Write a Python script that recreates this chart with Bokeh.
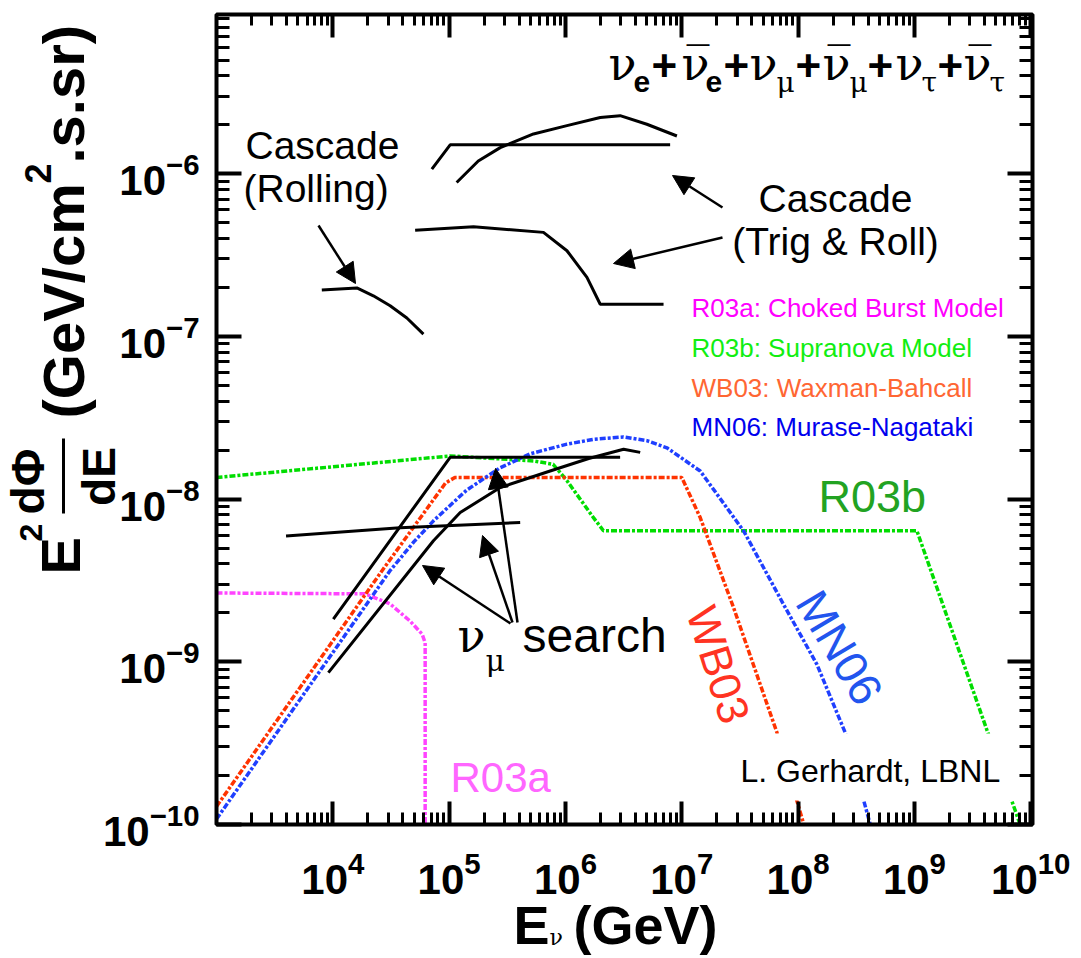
import math
from bokeh.plotting import figure
from bokeh.models import (LogAxis, FixedTicker, Label, Arrow, NormalHead,
                          BoxAnnotation, Range1d)
from bokeh.embed import file_html
from bokeh.resources import INLINE

# ---------------- data: E (GeV) and E^2 dPhi/dE (GeV cm^-2 s^-1 sr^-1) -------------
r03a_E = [1.0e3, 1.9e4, 3.11e4, 4.62e4, 5.86e4, 6.22e4, 6.22e4]
r03a_F = [2.65e-9, 2.62e-9, 2.27e-9, 1.78e-9, 1.48e-9, 1.31e-9, 1.0e-10]

r03b_E = [1.0e3, 1.02e5, 5.31e5, 7.83e5, 1.03e6, 1.74e6, 2.12e6, 1.05e9, 8.1e9]
r03b_F = [1.36e-8, 1.845e-8, 1.72e-8, 1.64e-8, 1.30e-8, 7.7e-9, 6.4e-9, 6.4e-9, 1.0e-10]

wb03_E = [1.0e3, 2.64e4, 9.33e4, 1.12e5, 1.0e7, 1.44e7, 2.79e7, 6.58e7, 1.12e8]
wb03_F = [1.29e-10, 3.62e-9, 1.26e-8, 1.36e-8, 1.36e-8, 7.71e-9, 2.15e-9, 3.67e-10, 1.0e-10]

mn06_E = [1.0e3, 3.09e4, 5.01e4, 7.33e4, 1.41e5, 2.74e5, 5.01e5, 1.03e6, 1.78e6,
          3.15e6, 5.01e6, 7.45e6, 1.44e7, 3.40e7, 7.48e7, 1.45e8, 2.54e8, 4.17e8]
mn06_F = [1.08e-10, 3.62e-9, 5.50e-9, 7.36e-9, 1.135e-8, 1.56e-8, 1.905e-8, 2.18e-8, 2.34e-8,
          2.415e-8, 2.29e-8, 2.07e-8, 1.49e-8, 6.38e-9, 2.26e-9, 9.66e-10, 3.67e-10, 1.0e-10]

casc_roll_E = [8.04e3, 1.61e4, 2.23e4, 3.11e4, 4.33e4, 6.01e4]
casc_roll_F = [1.93e-7, 1.99e-7, 1.78e-7, 1.545e-7, 1.30e-7, 1.035e-7]

casc_trlow_E = [5.1e4, 1.62e5, 6.47e5, 1.03e6, 1.53e6, 1.99e6, 6.97e6]
casc_trlow_F = [4.51e-7, 4.73e-7, 4.37e-7, 3.37e-7, 2.31e-7, 1.58e-7, 1.58e-7]

casc_flat_E = [7.1e4, 1.02e5, 7.94e6]
casc_flat_F = [1.07e-6, 1.51e-6, 1.51e-6]

casc_curve_E = [1.16e5, 1.78e5, 2.75e5, 5.31e5, 1.03e6, 1.99e6, 2.95e6, 5.01e6, 9.08e6]
casc_curve_F = [8.85e-7, 1.20e-6, 1.45e-6, 1.76e-6, 1.98e-6, 2.22e-6, 2.28e-6, 2.02e-6, 1.71e-6]

numu_flat_E = [3.96e3, 3.78e4, 4.08e5]
numu_flat_F = [5.94e-9, 6.68e-9, 7.18e-9]

numu_steep_E = [1.01e4, 1.02e5, 2.95e6]
numu_steep_F = [1.83e-9, 1.81e-8, 1.81e-8]

numu_curve_E = [9.16e3, 7.33e4, 1.245e5, 2.75e5, 7.38e5, 1.585e6, 3.16e6, 4.39e6]
numu_curve_F = [8.59e-10, 5.55e-9, 8.28e-9, 1.18e-8, 1.49e-8, 1.78e-8, 2.03e-8, 1.94e-8]

x_major = [1e4, 1e5, 1e6, 1e7, 1e8, 1e9, 1e10]
y_major = [1e-10, 1e-9, 1e-8, 1e-7, 1e-6]
x_minor = [m * 10.0 ** d for d in range(3, 10) for m in range(2, 10)]
y_minor = [m * 10.0 ** d for d in range(-10, -5) for m in range(2, 10)]

# ---------------- layout: the frame fills the canvas, the plot box sits inside ----------
W, H = 1078, 956
BOX_L, BOX_R, BOX_T, BOX_B = 216, 1032, 14, 824      # canvas pixels of the plot box
X_LO, X_HI = 3.0, 10.015                             # log10 E at box edges
Y_LO, Y_HI = -10.0, -5.02                            # log10 flux at box edges
ppd_x = (BOX_R - BOX_L) / (X_HI - X_LO)
ppd_y = (BOX_B - BOX_T) / (Y_HI - Y_LO)
x_start = 10 ** (X_LO - BOX_L / ppd_x)
x_end = 10 ** (X_HI + (W - BOX_R) / ppd_x)
y_start = 10 ** (Y_LO - (H - BOX_B) / ppd_y)
y_end = 10 ** (Y_HI + BOX_T / ppd_y)

p = figure(width=W, height=H, x_axis_type="log", y_axis_type="log",
           x_axis_location=None, y_axis_location=None,
           x_range=Range1d(x_start, x_end), y_range=Range1d(y_start, y_end),
           output_backend="svg", toolbar_location=None,
           min_border=0, min_border_left=0, min_border_right=0,
           min_border_top=0, min_border_bottom=0)
p.background_fill_color = "white"
p.border_fill_color = "white"
p.outline_line_color = None
p.xgrid.visible = False
p.ygrid.visible = False


def make_axis(loc, major, minor, labels, tin, tmin, standoff):
    ax = LogAxis(fixed_location=loc)
    ax.ticker = FixedTicker(ticks=major, minor_ticks=minor)
    ax.axis_line_color = None
    ax.major_tick_in = tin
    ax.major_tick_out = 0
    ax.minor_tick_in = tmin
    ax.minor_tick_out = 0
    ax.major_tick_line_width = 4
    ax.minor_tick_line_width = 3
    ax.major_tick_line_color = "black"
    ax.minor_tick_line_color = "black"
    if labels:
        ax.major_label_text_font = "Liberation Sans"
        ax.major_label_text_font_style = "bold"
        ax.major_label_text_font_size = "42px"
        ax.major_label_text_color = "black"
        ax.major_label_standoff = standoff
    else:
        ax.major_label_text_font_size = "0px"
        ax.major_label_text_color = None
        ax.major_label_standoff = 0
    return ax


p.add_layout(make_axis(10 ** Y_LO, x_major, x_minor, True, 23, 12, 26), "below")
p.add_layout(make_axis(10 ** X_LO, y_major, y_minor, True, 25, 13, 17), "left")
p.add_layout(make_axis(10 ** Y_HI, x_major, x_minor, False, 23, 11, 0), "above")
p.add_layout(make_axis(10 ** X_HI, y_major, y_minor, False, 25, 13, 0), "right")

# ---------------- curves ----------------
DASH = "6 2 3 2"
p.line(r03a_E, r03a_F, line_color="#ff44ff", line_width=3.5, line_dash=DASH)
p.line(r03b_E, r03b_F, line_color="#00dd00", line_width=3.5, line_dash=DASH)
p.line(wb03_E, wb03_F, line_color="#ff3300", line_width=3.5, line_dash=DASH)
p.line(mn06_E, mn06_F, line_color="#1f3fff", line_width=3.5, line_dash=DASH)

for xs, ys in [(casc_roll_E, casc_roll_F), (casc_trlow_E, casc_trlow_F),
               (casc_flat_E, casc_flat_F), (casc_curve_E, casc_curve_F),
               (numu_flat_E, numu_flat_F), (numu_steep_E, numu_steep_F),
               (numu_curve_E, numu_curve_F)]:
    p.line(xs, ys, line_color="black", line_width=3)

# plot box border
p.add_layout(BoxAnnotation(left=10 ** X_LO, right=10 ** X_HI, bottom=10 ** Y_LO,
                           top=10 ** Y_HI, fill_alpha=0.0, fill_color=None,
                           line_color="black", line_alpha=1.0, line_width=4))


# ---------------- annotations (positions in canvas pixels from top-left) ----------------
def lab(text, X, Y, size, color="black", font="Liberation Sans", style="normal",
        align="left", angle=0.0, centered=False):
    """(X, Y) is a point on the text baseline, or the text centre if centered."""
    if centered:
        ax, ay = X, Y
    else:
        d = 0.35 * size
        ax = X - d * math.sin(angle)
        ay = Y - d * math.cos(angle)
    p.add_layout(Label(x=ax, y=H - ay, x_units="screen", y_units="screen",
                       text=text, text_font=font, text_font_size=f"{size}px",
                       text_font_style=style, text_color=color, text_align=align,
                       text_baseline="middle", angle=angle))


def arrow(X0, Y0, X1, Y1):
    p.add_layout(Arrow(x_start=X0, y_start=H - Y0, x_end=X1, y_end=H - Y1,
                       start_units="screen", end_units="screen", line_width=2.5,
                       line_color="black",
                       end=NormalHead(size=20, fill_color="black", line_color="black",
                                      line_width=1)))


def bar(X0, X1, Y0, Y1, color):
    p.add_layout(BoxAnnotation(left=X0, right=X1, bottom=H - Y1, top=H - Y0,
                               left_units="screen", right_units="screen",
                               bottom_units="screen", top_units="screen",
                               fill_color=color, fill_alpha=1.0, line_color=None))


# white box behind the credit text
bar(705, 1018, 733, 800, "white")
lab("L. Gerhardt, LBNL", 740, 782, 32)

# flavour sum formula
NU = "\u03bd"
NUBAR = "\u03bd\u0305"
SERIF = "DejaVu Serif"
SANS = "Liberation Sans"
formula = [
    (NU, 608, 80, SERIF, 46, "normal"), ("e", 633, 92, SANS, 30, "bold"),
    ("+", 651, 80, SANS, 44, "bold"),
    (NUBAR, 681, 80, SERIF, 46, "normal"), ("e", 705, 92, SANS, 30, "bold"),
    ("+", 723, 80, SANS, 44, "bold"),
    (NU, 749, 80, SERIF, 46, "normal"), ("\u03bc", 776, 92, SERIF, 28, "normal"),
    ("+", 795, 80, SANS, 44, "bold"),
    (NUBAR, 822, 80, SERIF, 46, "normal"), ("\u03bc", 849, 92, SERIF, 28, "normal"),
    ("+", 867, 80, SANS, 44, "bold"),
    (NU, 895, 80, SERIF, 46, "normal"), ("\u03c4", 921, 92, SERIF, 28, "normal"),
    ("+", 937, 80, SANS, 44, "bold"),
    (NUBAR, 963, 80, SERIF, 46, "normal"), ("\u03c4", 989, 92, SERIF, 28, "normal"),
]
for t, X, Y, f, s, st in formula:
    lab(t, X, Y, s, font=f, style=st)

# cascade labels
lab("Cascade", 245, 159, 39)
lab("(Rolling)", 243, 202, 39)
lab("Cascade", 835, 212, 39, align="center")
lab("(Trig & Roll)", 835, 255, 39, align="center")

# numu search label
lab(NU, 457, 652, 46, font=SERIF)
lab("\u03bc", 485, 670, 30, font=SERIF)
lab("search", 522, 652, 48)

# legend texts
lab("R03a: Choked Burst Model", 691, 317, 26, color="#ff00ff")
lab("R03b: Supranova Model", 691, 357, 26, color="#11ee11")
lab("WB03: Waxman-Bahcall", 691, 397, 26, color="#ff6633")
lab("MN06: Murase-Nagataki", 691, 436, 26, color="#0000ee")

# curve labels
lab("R03b", 818, 512, 45, color="#22a322")
lab("R03a", 450, 792, 42, color="#ff66ff")
lab("WB03", 718, 664, 44, color="#ff3322", align="center", centered=True,
    angle=-math.radians(72.6))
lab("MN06", 839, 647, 46, color="#2255ee", align="center", centered=True,
    angle=-math.radians(59.1))

# arrows
arrow(318, 225, 355, 283)
arrow(722, 207, 672, 175)
arrow(722, 237, 613, 263)
arrow(510, 623, 422, 565)
arrow(512, 622, 482, 535)
arrow(517, 622, 495, 468)

# x-axis title
lab("E", 513, 943, 54, style="bold")
lab(NU, 549, 945, 22, font=SERIF)
lab("(GeV)", 573, 943, 54, style="bold")

# y-axis title (rotated, reads bottom to top)
HALF_PI = math.pi / 2
lab("E", 80, 574, 56, style="bold", angle=HALF_PI)
lab("2", 42, 541, 32, style="bold", angle=HALF_PI)
lab("d\u03a6", 44, 481, 46, style="bold", align="center", angle=HALF_PI)
lab("dE", 115, 476, 46, style="bold", align="center", angle=HALF_PI)
bar(61.5, 64.5, 438, 513, "black")
lab("(GeV/cm", 83, 418, 58, style="bold", angle=HALF_PI)
lab("2", 50, 183, 36, style="bold", angle=HALF_PI)
lab(".s.sr)", 83, 163, 58, style="bold", angle=HALF_PI)

open("out.html", "w").write(file_html(p, INLINE))
